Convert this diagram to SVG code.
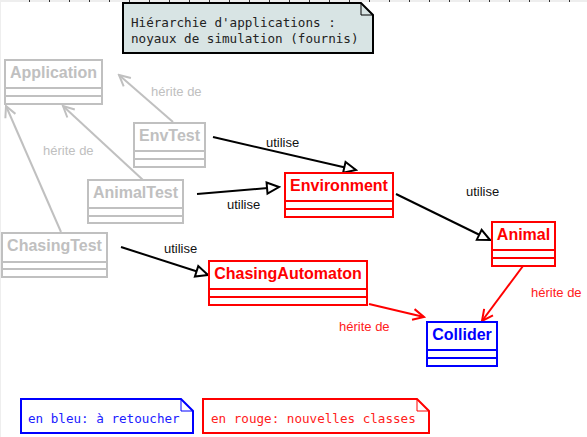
<svg xmlns="http://www.w3.org/2000/svg" width="587" height="437" viewBox="0 0 587 437">
<style>
.box{fill:#fff;stroke-width:2}
.gray{stroke:#c0c0c0}
.red{stroke:#ff0000}
.blue{stroke:#0000ff}
.name{font-family:"Liberation Sans",Arial,sans-serif;font-size:16px;font-weight:bold;text-anchor:middle}
.gname{fill:#c0c0c0}
.rname{fill:#ff0000}
.bname{fill:#0000ff}
.lbl{font-family:"Liberation Sans",Arial,sans-serif;font-size:13px}
.note{font-family:"DejaVu Sans Mono",monospace;font-size:12.6px}
.uses{stroke:#000;stroke-width:2;fill:none;marker-end:url(#tri)}
.inh{stroke-width:2;fill:none}
</style>
<defs>
<marker id="tri" markerUnits="userSpaceOnUse" viewBox="-14 -8 16 16" refX="0" refY="0" markerWidth="16" markerHeight="16" orient="auto">
<path d="M0,0 L-12,-5.5 L-12,5.5 Z" fill="#fff" stroke="#000" stroke-width="2" stroke-linejoin="miter"/>
</marker>
<marker id="vg" markerUnits="userSpaceOnUse" viewBox="-14 -8 16 16" refX="0" refY="0" markerWidth="16" markerHeight="16" orient="auto">
<path d="M-11,-5.5 L0,0 L-11,5.5" fill="none" stroke="#c0c0c0" stroke-width="2"/>
</marker>
<marker id="vr" markerUnits="userSpaceOnUse" viewBox="-14 -8 16 16" refX="0" refY="0" markerWidth="16" markerHeight="16" orient="auto">
<path d="M-11,-5.5 L0,0 L-11,5.5" fill="none" stroke="#ff0000" stroke-width="2"/>
</marker>
</defs>
<rect x="0" y="0" width="587" height="437" fill="#fff"/>
<rect x="0" y="0" width="587" height="2" fill="#eeeeee"/>
<rect x="0" y="0" width="1" height="437" fill="#eeeeee"/>
<path d="M29.5,0v2M49.5,0v2M69.5,0v2M89.5,0v2M109.5,0v2M129.5,0v2M149.5,0v2M169.5,0v2M189.5,0v2M209.5,0v2M229.5,0v2M249.5,0v2M269.5,0v2M289.5,0v2M309.5,0v2M329.5,0v2M349.5,0v2M369.5,0v2M389.5,0v2M409.5,0v2M429.5,0v2M449.5,0v2M469.5,0v2M489.5,0v2M509.5,0v2M529.5,0v2M549.5,0v2M569.5,0v2" stroke="#333" stroke-width="1"/>

<g id="note-top">
<path d="M123,3 H361 L373,15 V53 H123 Z" fill="#d8e4e4" stroke="#000" stroke-width="2"/>
<path d="M361,3 V15 H373" fill="none" stroke="#000" stroke-width="1"/>
<text class="note" x="131" y="27" fill="#222">Hiérarchie d'applications :</text>
<text class="note" x="131" y="43" fill="#222">noyaux de simulation (fournis)</text>
</g>

<g id="connectors">
<path class="inh gray" d="M173,122 L119,75" marker-end="url(#vg)"/>
<path class="inh gray" d="M143,180 L63,106" marker-end="url(#vg)"/>
<path class="inh gray" d="M61,232 L6,106" marker-end="url(#vg)"/>
<path class="uses" d="M213,137 L356,170"/>
<path class="uses" d="M197,194 L279,187"/>
<path class="uses" d="M121,247 L208,275"/>
<path class="uses" d="M396,194 L490,240"/>
<path class="inh red" d="M369,304 L424,317" marker-end="url(#vr)"/>
<path class="inh red" d="M523,266 L482,321" marker-end="url(#vr)"/>
<text class="lbl" x="151" y="96" fill="#c0c0c0">hérite de</text>
<text class="lbl" x="43" y="155" fill="#c0c0c0">hérite de</text>
<text class="lbl" x="266" y="147" fill="#111">utilise</text>
<text class="lbl" x="227" y="209" fill="#111">utilise</text>
<text class="lbl" x="164" y="253" fill="#111">utilise</text>
<text class="lbl" x="466" y="196" fill="#111">utilise</text>
<text class="lbl" x="339" y="331" fill="#ff2020">hérite de</text>
<text class="lbl" x="531" y="297" fill="#ff2020">hérite de</text>
</g>

<g id="Application">
<rect class="box gray" x="5" y="60" width="97" height="44"/>
<path class="gray" stroke-width="2" d="M5,88 H102 M5,96 H102"/>
<text class="name gname" x="53.5" y="78">Application</text>
</g>
<g id="EnvTest">
<rect class="box gray" x="134" y="123" width="71" height="44"/>
<path class="gray" stroke-width="2" d="M134,151 H205 M134,159 H205"/>
<text class="name gname" x="169.5" y="141">EnvTest</text>
</g>
<g id="AnimalTest">
<rect class="box gray" x="88" y="180" width="95" height="43"/>
<path class="gray" stroke-width="2" d="M88,208 H183 M88,216 H183"/>
<text class="name gname" x="135.5" y="198">AnimalTest</text>
</g>
<g id="ChasingTest">
<rect class="box gray" x="2" y="233" width="105" height="44"/>
<path class="gray" stroke-width="2" d="M2,262 H107 M2,269 H107"/>
<text class="name gname" x="54.5" y="251">ChasingTest</text>
</g>
<g id="Environment">
<rect class="box red" x="285" y="173" width="108" height="44"/>
<path class="red" stroke-width="2" d="M285,201 H393 M285,209 H393"/>
<text class="name rname" x="339" y="191">Environment</text>
</g>
<g id="Animal">
<rect class="box red" x="492" y="222" width="63" height="44"/>
<path class="red" stroke-width="2" d="M492,250 H555 M492,258 H555"/>
<text class="name rname" x="523.5" y="240">Animal</text>
</g>
<g id="ChasingAutomaton">
<rect class="box red" x="209" y="261" width="158" height="44"/>
<path class="red" stroke-width="2" d="M209,289 H367 M209,297 H367"/>
<text class="name rname" x="288" y="279">ChasingAutomaton</text>
</g>
<g id="Collider">
<rect class="box blue" x="427" y="322" width="70" height="44"/>
<path class="blue" stroke-width="2" d="M427,350 H497 M427,358 H497"/>
<text class="name bname" x="462" y="340">Collider</text>
</g>

<g id="note-blue">
<path d="M21,399 H181 L193,411 V433 H21 Z" fill="#fff" stroke="#0000ff" stroke-width="2"/>
<path d="M181,399 V411 H193" fill="none" stroke="#0000ff" stroke-width="1"/>
<text class="note" x="28" y="423" fill="#2020ff">en bleu: à retoucher</text>
</g>
<g id="note-red">
<path d="M203,399 H417 L429,411 V433 H203 Z" fill="#fff" stroke="#ff0000" stroke-width="2"/>
<path d="M417,399 V411 H429" fill="none" stroke="#ff0000" stroke-width="1"/>
<text class="note" x="211" y="423" fill="#ff2020">en rouge: nouvelles classes</text>
</g>
</svg>
